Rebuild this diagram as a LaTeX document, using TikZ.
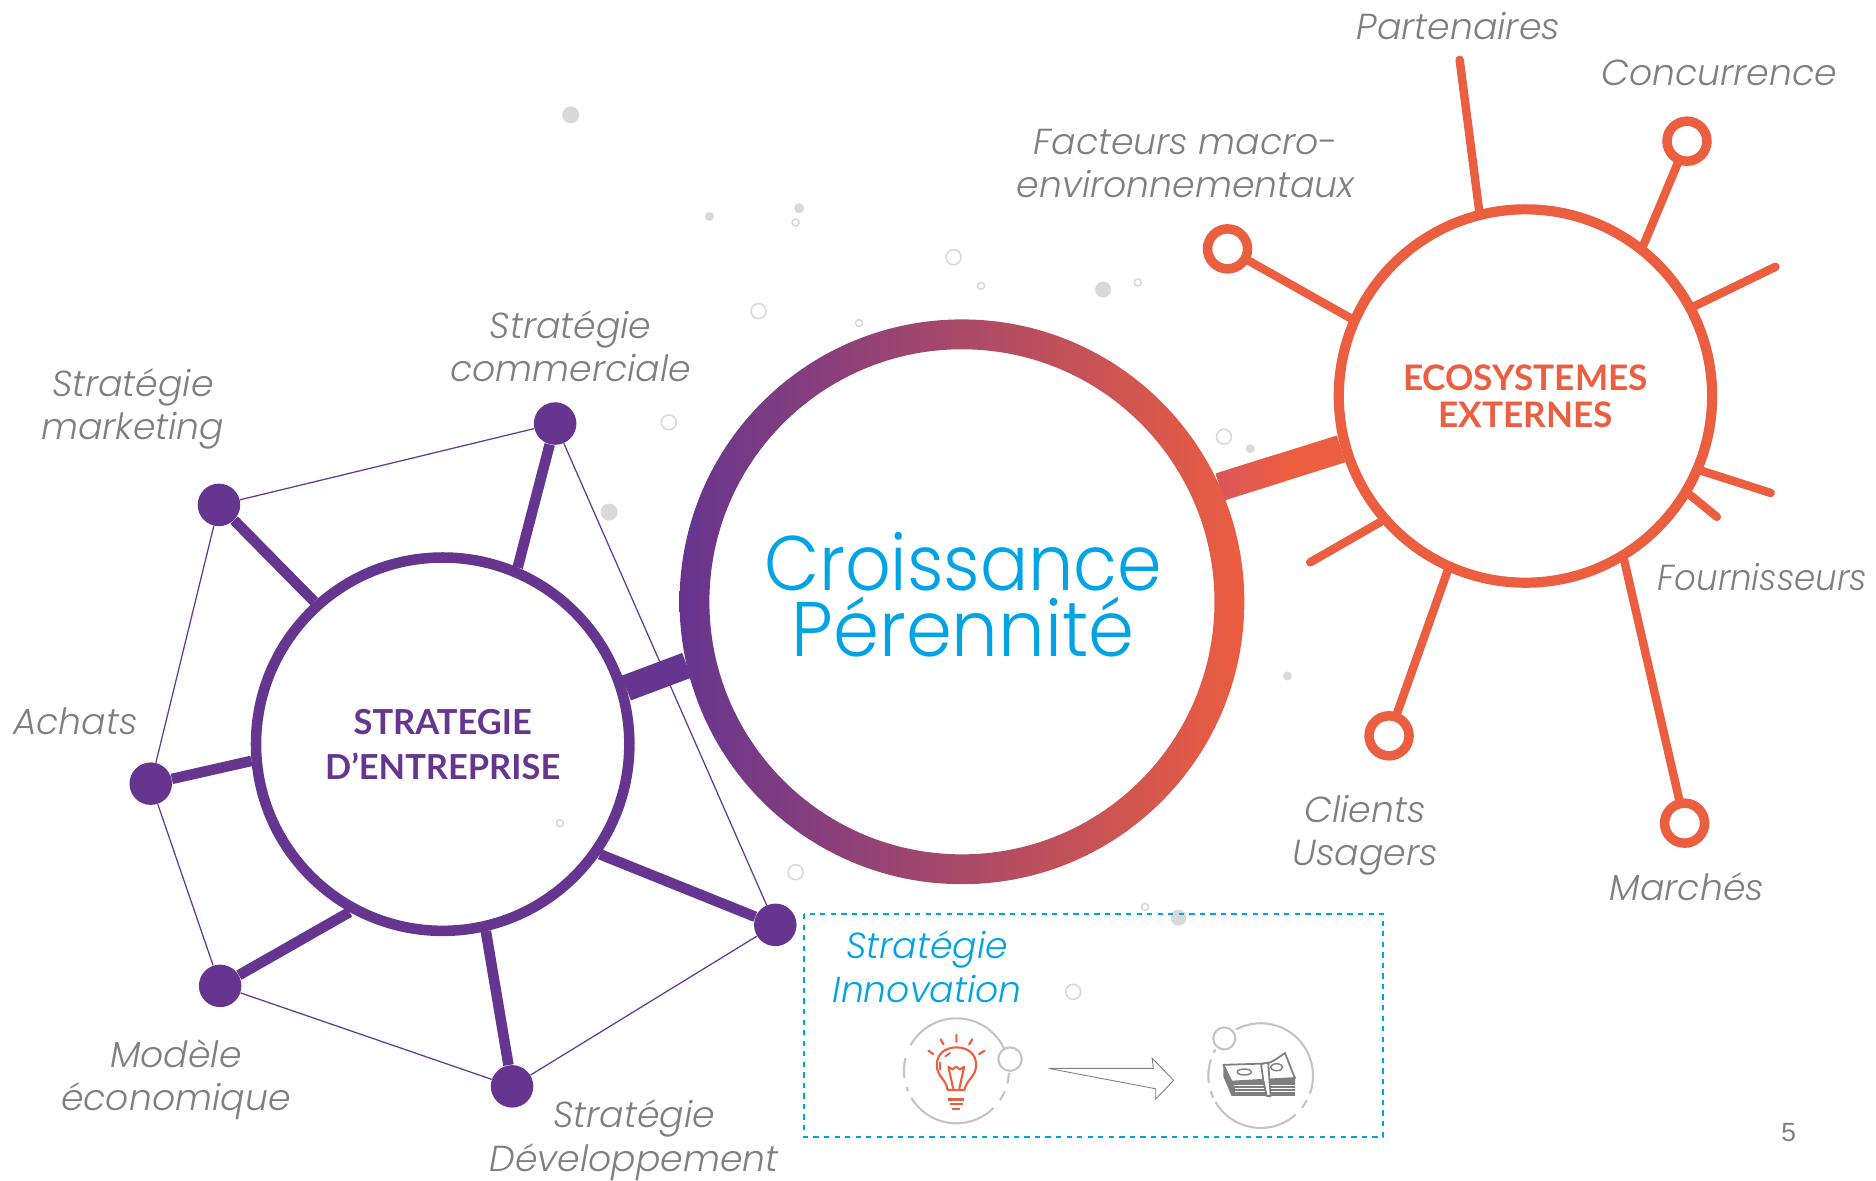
\documentclass[tikz,border=0pt]{standalone}
\usepackage{fontspec}
\usetikzlibrary{calc,backgrounds}
\setmainfont{Poppins}[UprightFont=* Light,ItalicFont=* Light Italic,BoldFont=* Medium]
\newfontfamily\headfont{Lato}
\newfontfamily\pagefont{Liberation Sans}
\definecolor{violet}{HTML}{66358F}
\definecolor{corail}{HTML}{EC5E40}
\definecolor{rouge}{HTML}{D9565C}
\definecolor{cyan}{HTML}{00A3E4}
\definecolor{texte}{HTML}{7F7F7F}
\definecolor{bille}{HTML}{D9D9D9}
\definecolor{anneau}{HTML}{C4C4C4}
\tikzset{
  label/.style={font=\fontsize{20.6}{24.5}\selectfont\itshape, text=texte, align=center, inner sep=0pt},
  hub/.style={circle, draw, fill=white, line width=#1, inner sep=0pt, minimum size=7.466cm, align=center},
  pastille/.style={circle, fill=violet, minimum size=0.85cm, inner sep=0pt},
  oeil/.style={circle, draw=corail, fill=white, line width=5.4pt, minimum size=0.8cm, inner sep=0pt},
  rayon/.style={draw=violet, line width=6pt},
  branche/.style={draw=corail, line width=4.8pt, line cap=round},
  fil/.style={draw=violet, line width=0.7pt},
  iconering/.style={draw=anneau, line width=1.2pt},
  billet/.style={draw=texte, fill=white, line width=1pt, line join=round},
}
\begin{document}
\begin{tikzpicture}[x=0.02393cm, y=-0.02393cm]
\useasboundingbox (0,0) rectangle (1568,987);

% Nodes
\node[circle, minimum size=11.294cm, inner sep=0pt, outer sep=0pt] (croissance) at (804,503) {};
\node[hub=6pt, draw=violet, text=violet, font=\headfont\bfseries\fontsize{19.6}{25.5}\selectfont] (strategie) at (370,622) {STRATEGIE\\D’ENTREPRISE};
\node[hub=5.8pt, draw=corail, text=corail, font=\headfont\bfseries\fontsize{20}{21}\selectfont] (ecosystemes) at (1275,331) {ECOSYSTEMES\\EXTERNES};

\node[pastille] (marketing) at (183,422) {};
\node[pastille] (commerciale) at (464,354) {};
\node[pastille] (achats) at (126,655) {};
\node[pastille] (modele) at (184,824) {};
\node[pastille] (developpement) at (428,908) {};
\node[pastille] (innovation) at (648,773) {};

\node[oeil] (facteurs) at (1026,208) {};
\node[oeil] (concurrence) at (1410,118) {};
\node[oeil] (clients) at (1161,615) {};
\node[oeil] (marches) at (1408,688) {};

\coordinate (partenaires) at (1220,50);
\coordinate (stubA) at (1484,223);
\coordinate (stubB) at (1480,412);
\coordinate (stubC) at (1435,432);
\coordinate (stubD) at (1095,470);

\begin{scope}[on background layer]
% Polygon
\draw[fil] (marketing) -- (commerciale) -- (innovation) -- (developpement) -- (modele) -- (achats) -- (marketing);

% Spokes
\draw[rayon] (strategie.132.7) -- (marketing);
\draw[rayon] (strategie.67.3) -- (commerciale);
\draw[rayon] (strategie.185.8) -- (achats);
\draw[rayon] (strategie.241.5) -- (modele);
\draw[rayon] (strategie.283) -- (developpement);
\draw[rayon] (strategie.-35.3) -- (innovation);

\draw[branche] (ecosystemes.156.8) -- (facteurs);
\draw[branche] (ecosystemes.104.6) -- (partenaires);
\draw[branche] (ecosystemes.52) -- (concurrence);
\draw[branche] (ecosystemes.28.5) -- (stubA);
\draw[branche] (ecosystemes.-23.8) -- (stubB);
\draw[branche] (ecosystemes.-31.9) -- (stubC);
\draw[branche] (ecosystemes.221.4) -- (stubD);
\draw[branche] (ecosystemes.246) -- (clients);
\draw[branche] (ecosystemes.-59) -- (marches);

% Bars
\draw[violet, line width=15pt] (croissance.193.5) -- (strategie.17);
\draw[corail, line width=16pt] (croissance.24) -- (ecosystemes.196.5);
\shade[left color=rouge, right color=corail]
  ($(croissance.24)!8pt!90:(ecosystemes.196.5)$) -- ($(croissance.24)!8pt!-90:(ecosystemes.196.5)$)
  -- ($($(croissance.24)!0.5!(ecosystemes.196.5)$)!8pt!90:(croissance.24)$) -- ($($(croissance.24)!0.5!(ecosystemes.196.5)$)!8pt!-90:(croissance.24)$) -- cycle;
\end{scope}

% Ring
\shade[left color=violet, right color=corail, even odd rule] (croissance.center) circle[radius=5.647cm] (croissance.center) circle[radius=5.05cm];
\node[font=\fontsize{44}{37.5}\selectfont, text=cyan, align=center, inner sep=0pt] (titre) at (805,497) {\scalebox{0.925}[1]{Croissance}\\\scalebox{0.955}[1]{Pérennité}};

% Dots
\fill[bille] (477,96) circle[radius=0.17cm];
\fill[bille] (593,181) circle[radius=0.09cm];
\fill[bille] (668,174) circle[radius=0.1cm];
\fill[bille] (922,242) circle[radius=0.16cm];
\fill[bille] (1045,375) circle[radius=0.09cm];
\fill[bille] (509,428) circle[radius=0.17cm];
\fill[bille] (1076,565) circle[radius=0.09cm];
\fill[bille] (985,767) circle[radius=0.16cm];
\draw[bille, line width=0.9pt] (665,186) circle[radius=0.07cm];
\draw[bille, line width=0.9pt] (797,215) circle[radius=0.15cm];
\draw[bille, line width=0.9pt] (820,239) circle[radius=0.07cm];
\draw[bille, line width=0.9pt] (951,236) circle[radius=0.07cm];
\draw[bille, line width=0.9pt] (718,270) circle[radius=0.07cm];
\draw[bille, line width=0.9pt] (634,260) circle[radius=0.15cm];
\draw[bille, line width=0.9pt] (559,353) circle[radius=0.15cm];
\draw[bille, line width=0.9pt] (1023,365) circle[radius=0.15cm];
\draw[bille, line width=0.9pt] (468,688) circle[radius=0.07cm];
\draw[bille, line width=0.9pt] (665,729) circle[radius=0.15cm];
\draw[bille, line width=0.9pt] (957,758) circle[radius=0.07cm];
\draw[bille, line width=0.9pt] (897,829) circle[radius=0.15cm];

% Labels
\node[label] (lPartenaires) at (1219,22) {Partenaires};
\node[label] (lConcurrence) at (1437,61) {Concurrence};
\node[label] (lFacteurs) at (991,137) {Facteurs macro-\\environnementaux};
\node[label] (lFournisseurs) at (1473,482) {\scalebox{0.94}[1]{Fournisseurs}};
\node[label] (lClients) at (1141,698) {Clients\\Usagers};
\node[label] (lMarches) at (1410,741) {Marchés};
\node[label] (lCommerciale) at (477,289) {Stratégie\\commerciale};
\node[label] (lMarketing) at (111,342) {Stratégie\\marketing};
\node[label] (lAchats) at (63,603) {Achats};
\node[label] (lModele) at (147,902.5) {Modèle\\économique};
\node[label] (lDeveloppement) at (530,953) {Stratégie\\Développement};

% Innovation box
\draw[cyan, dashed, line width=1pt] (672,764) rectangle (1156,950);
\node[label, text=cyan] (lInnovation) at (775,808) {Stratégie\\Innovation};
\node[font=\pagefont\fontsize{15}{18}\selectfont, text=texte, inner sep=0pt] (page) at (1495,947) {5};

% Bulb icon
\coordinate (bulbe) at (799.4,895);
\draw[iconering] ([shift={(5:1.05cm)}]bulbe) arc[start angle=5, end angle=151, radius=1.05cm];
\draw[iconering] ([shift={(166:1.05cm)}]bulbe) arc[start angle=166, end angle=188, radius=1.05cm];
\draw[iconering] ([shift={(198:1.05cm)}]bulbe) arc[start angle=198, end angle=203, radius=1.05cm];
\draw[iconering] ([shift={(211:1.05cm)}]bulbe) arc[start angle=211, end angle=315, radius=1.05cm];
\draw[iconering] ([shift={(326:1.05cm)}]bulbe) arc[start angle=326, end angle=337, radius=1.05cm];
\draw[iconering] ([shift={(346:1.05cm)}]bulbe) arc[start angle=346, end angle=358, radius=1.05cm];
\draw[iconering, fill=white] (844.2,885.2) circle[radius=0.234cm];
\draw[corail, line width=1.2pt, line join=round] (792,911) .. controls (791,902) and (783,900) .. (783,890) .. controls (783,881) and (790,875.4) .. (799.4,875.4) .. controls (809,875.4) and (815.8,881) .. (815.8,890) .. controls (815.8,900) and (808,902) .. (806,911) -- cycle;
\draw[corail, line width=1.2pt, line join=round] (796.9,911) -- (792.7,891.6) -- (796,893.8) -- (799.1,891.6) -- (802.4,893.8) -- (805.8,891.6) -- (801.6,911);
\draw[corail, line width=1.5pt] (792,918.9) -- (806,918.9) (794,922.8) -- (804.7,922.8) (796,927) -- (802.4,927);
\draw[corail, line width=1.2pt, line cap=round] (799.4,865) -- (799.4,870.7) (786.3,868.7) -- (788.5,872.9) (812.7,868.7) -- (810,872.9) (776,878.2) -- (780,881) (822.8,878.2) -- (818.3,881);
\draw[corail, line width=1pt, line cap=round] (785.7,894) -- (785.7,888) (790,883) -- (794,880);

% Arrow
\draw[texte, line width=0.5pt, line join=miter] (876.5,893) -- (964,893) -- (963,884.5) -- (981,903) -- (966,918.5) -- (966,910) -- cycle;

% Money icon
\coordinate (billets) at (1053.7,899);
\draw[iconering] ([shift={(118:1.047cm)}]billets) arc[start angle=118, end angle=-20, radius=1.047cm];
\draw[iconering] ([shift={(-28:1.047cm)}]billets) arc[start angle=-28, end angle=-38, radius=1.047cm];
\draw[iconering] ([shift={(-48:1.047cm)}]billets) arc[start angle=-48, end angle=-150, radius=1.047cm];
\draw[iconering] ([shift={(205:1.047cm)}]billets) arc[start angle=205, end angle=197, radius=1.047cm];
\draw[iconering] ([shift={(188:1.047cm)}]billets) arc[start angle=188, end angle=162, radius=1.047cm];
\draw[iconering] ([shift={(154:1.047cm)}]billets) arc[start angle=154, end angle=150, radius=1.047cm];
\draw[iconering, fill=white] (1023.3,867.9) circle[radius=0.22cm];
\fill[texte] (1022.5,890) -- (1022.5,900) -- (1029.4,916) -- (1082.4,916) -- (1082.4,901) -- cycle;
\draw[white, line width=0.7pt] (1031,907) -- (1082,907) (1032,909.7) -- (1082,909.7) (1032,912.5) -- (1082,912.5);
\draw[billet] (1022.5,890) -- (1029.4,904) -- (1082.4,901) -- (1081,898) -- (1074,880) .. controls (1066,886) and (1060,890) .. (1054.5,889) -- cycle;
\draw[texte, line width=0.8pt] (1040,896) ellipse[x radius=0.14cm, y radius=0.06cm] (1067,892) ellipse[x radius=0.12cm, y radius=0.07cm];
\draw[billet] (1054,889.5) -- (1056,903.5) -- (1058.7,916) -- (1062,916) -- (1061,903) -- (1060,888) -- cycle;
\end{tikzpicture}
\end{document}
